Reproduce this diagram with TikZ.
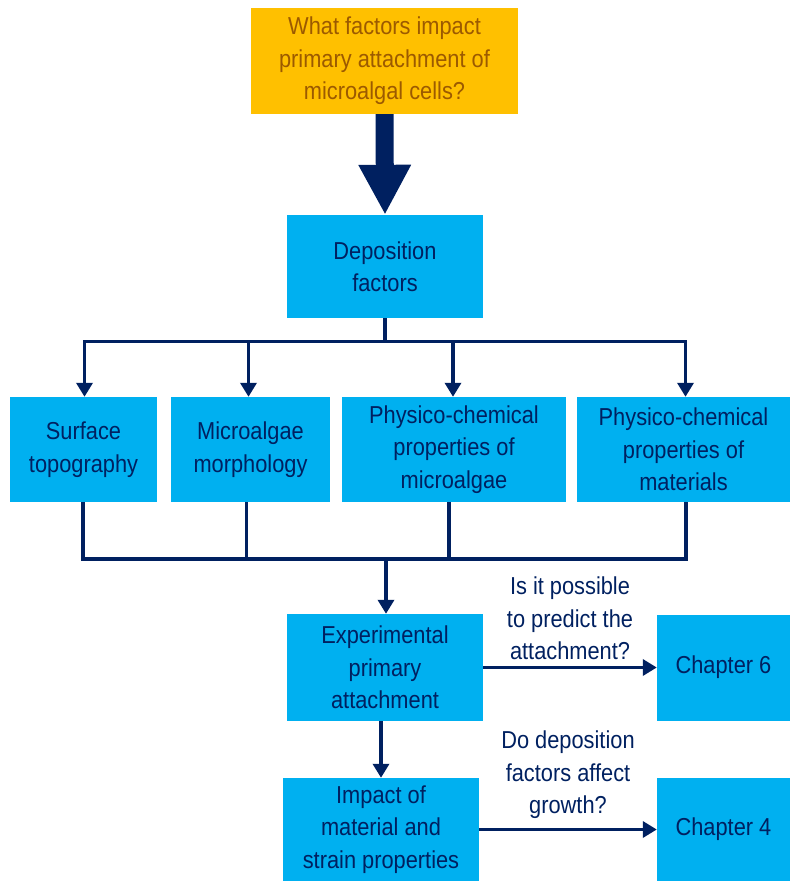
\documentclass[tikz,border=0pt]{standalone}
\usepackage{fontspec}
\setmainfont{Liberation Sans}[FakeStretch=0.89]
\usetikzlibrary{arrows.meta,positioning}

\definecolor{qorange}{RGB}{255,192,0}
\definecolor{qbrown}{RGB}{156,90,0}
\definecolor{boxblue}{RGB}{0,176,240}
\definecolor{navy}{RGB}{0,32,96}

\begin{document}
\begin{tikzpicture}[
    x=1pt, y=-1pt,
    every node/.style={align=center, inner sep=0pt, font=\fontsize{24.5}{32.5}\selectfont, text=navy},
    stage/.style={fill=boxblue, minimum height=105pt},
    question/.style={fill=qorange, text=qbrown, minimum width=267pt, minimum height=106pt},
    conn/.style={draw=navy, line width=3.4pt},
    bigarrow/.style={draw=navy, line width=18pt, -{Triangle[length=50pt, width=49pt]}},
    >={Triangle[length=14pt, width=16pt]}
  ]
    \useasboundingbox (0,0) rectangle (790,881);

    \node[question] (quest) at (384.5,61) {What factors impact\\primary attachment of\\microalgal cells?};
    \node[stage, minimum width=196pt, minimum height=103pt] (depo) at (385,266.5) {Deposition\\factors};

    \node[stage, minimum width=147pt] (topo) at (83.5,449.5) {Surface\\topography};
    \node[stage, minimum width=159pt] (morph) at (250.5,449.5) {Microalgae\\morphology};
    \node[stage, minimum width=224pt] (physalg) at (454,449.5) {Physico-chemical\\properties of\\microalgae};
    \node[stage, minimum width=213pt] (physmat) at (683.5,449.5) {Physico-chemical\\properties of\\materials};

    \node[stage, minimum width=196pt, minimum height=107pt] (exper) at (385,667.5) {Experimental\\primary\\attachment};
    \node[stage, minimum width=196pt, minimum height=103pt] (impact) at (381,829.5) {Impact of\\material and\\strain properties};
    \node[stage, minimum width=133pt, minimum height=106pt] (chsix) at (723.5,667.5) {Chapter 6};
    \node[stage, minimum width=133pt, minimum height=103pt] (chfour) at (723.5,829.5) {Chapter 4};

    \coordinate (merge) at (386,559);

    \draw[bigarrow] (quest.south) -- (depo.north);

    % fork to the four factors
    \draw[conn,->] (depo.south) -- ++(0,23) -| ([xshift=1pt]topo.north);
    \draw[conn,->] (depo.south) -- ++(0,23) -| ([xshift=-2pt]morph.north);
    \draw[conn,->] (depo.south) -- ++(0,23) -| ([xshift=-1pt]physalg.north);
    \draw[conn,->] (depo.south) -- ++(0,23) -| ([xshift=2pt]physmat.north);

    % join back
    \draw[conn] ([xshift=-0.5pt]topo.south) |- (merge);
    \draw[conn] ([xshift=-4pt]morph.south) |- (merge);
    \draw[conn] ([xshift=-5pt]physalg.south) |- (merge);
    \draw[conn] ([xshift=2.5pt]physmat.south) |- (merge);
    \draw[conn,->] (merge) -- (exper.north -| merge);

    \draw[conn,->] (exper.south -| impact) -- (impact.north);
    \draw[conn,->] (exper.east) -- (chsix.west)
      node[midway, above=6pt] (askpredict) {Is it possible\\to predict the\\attachment?};
    \draw[conn,->] (impact.east |- chfour) -- (chfour.west)
      node[midway, above=9pt] (askgrowth) {Do deposition\\factors affect\\growth?};
  \end{tikzpicture}
\end{document}
